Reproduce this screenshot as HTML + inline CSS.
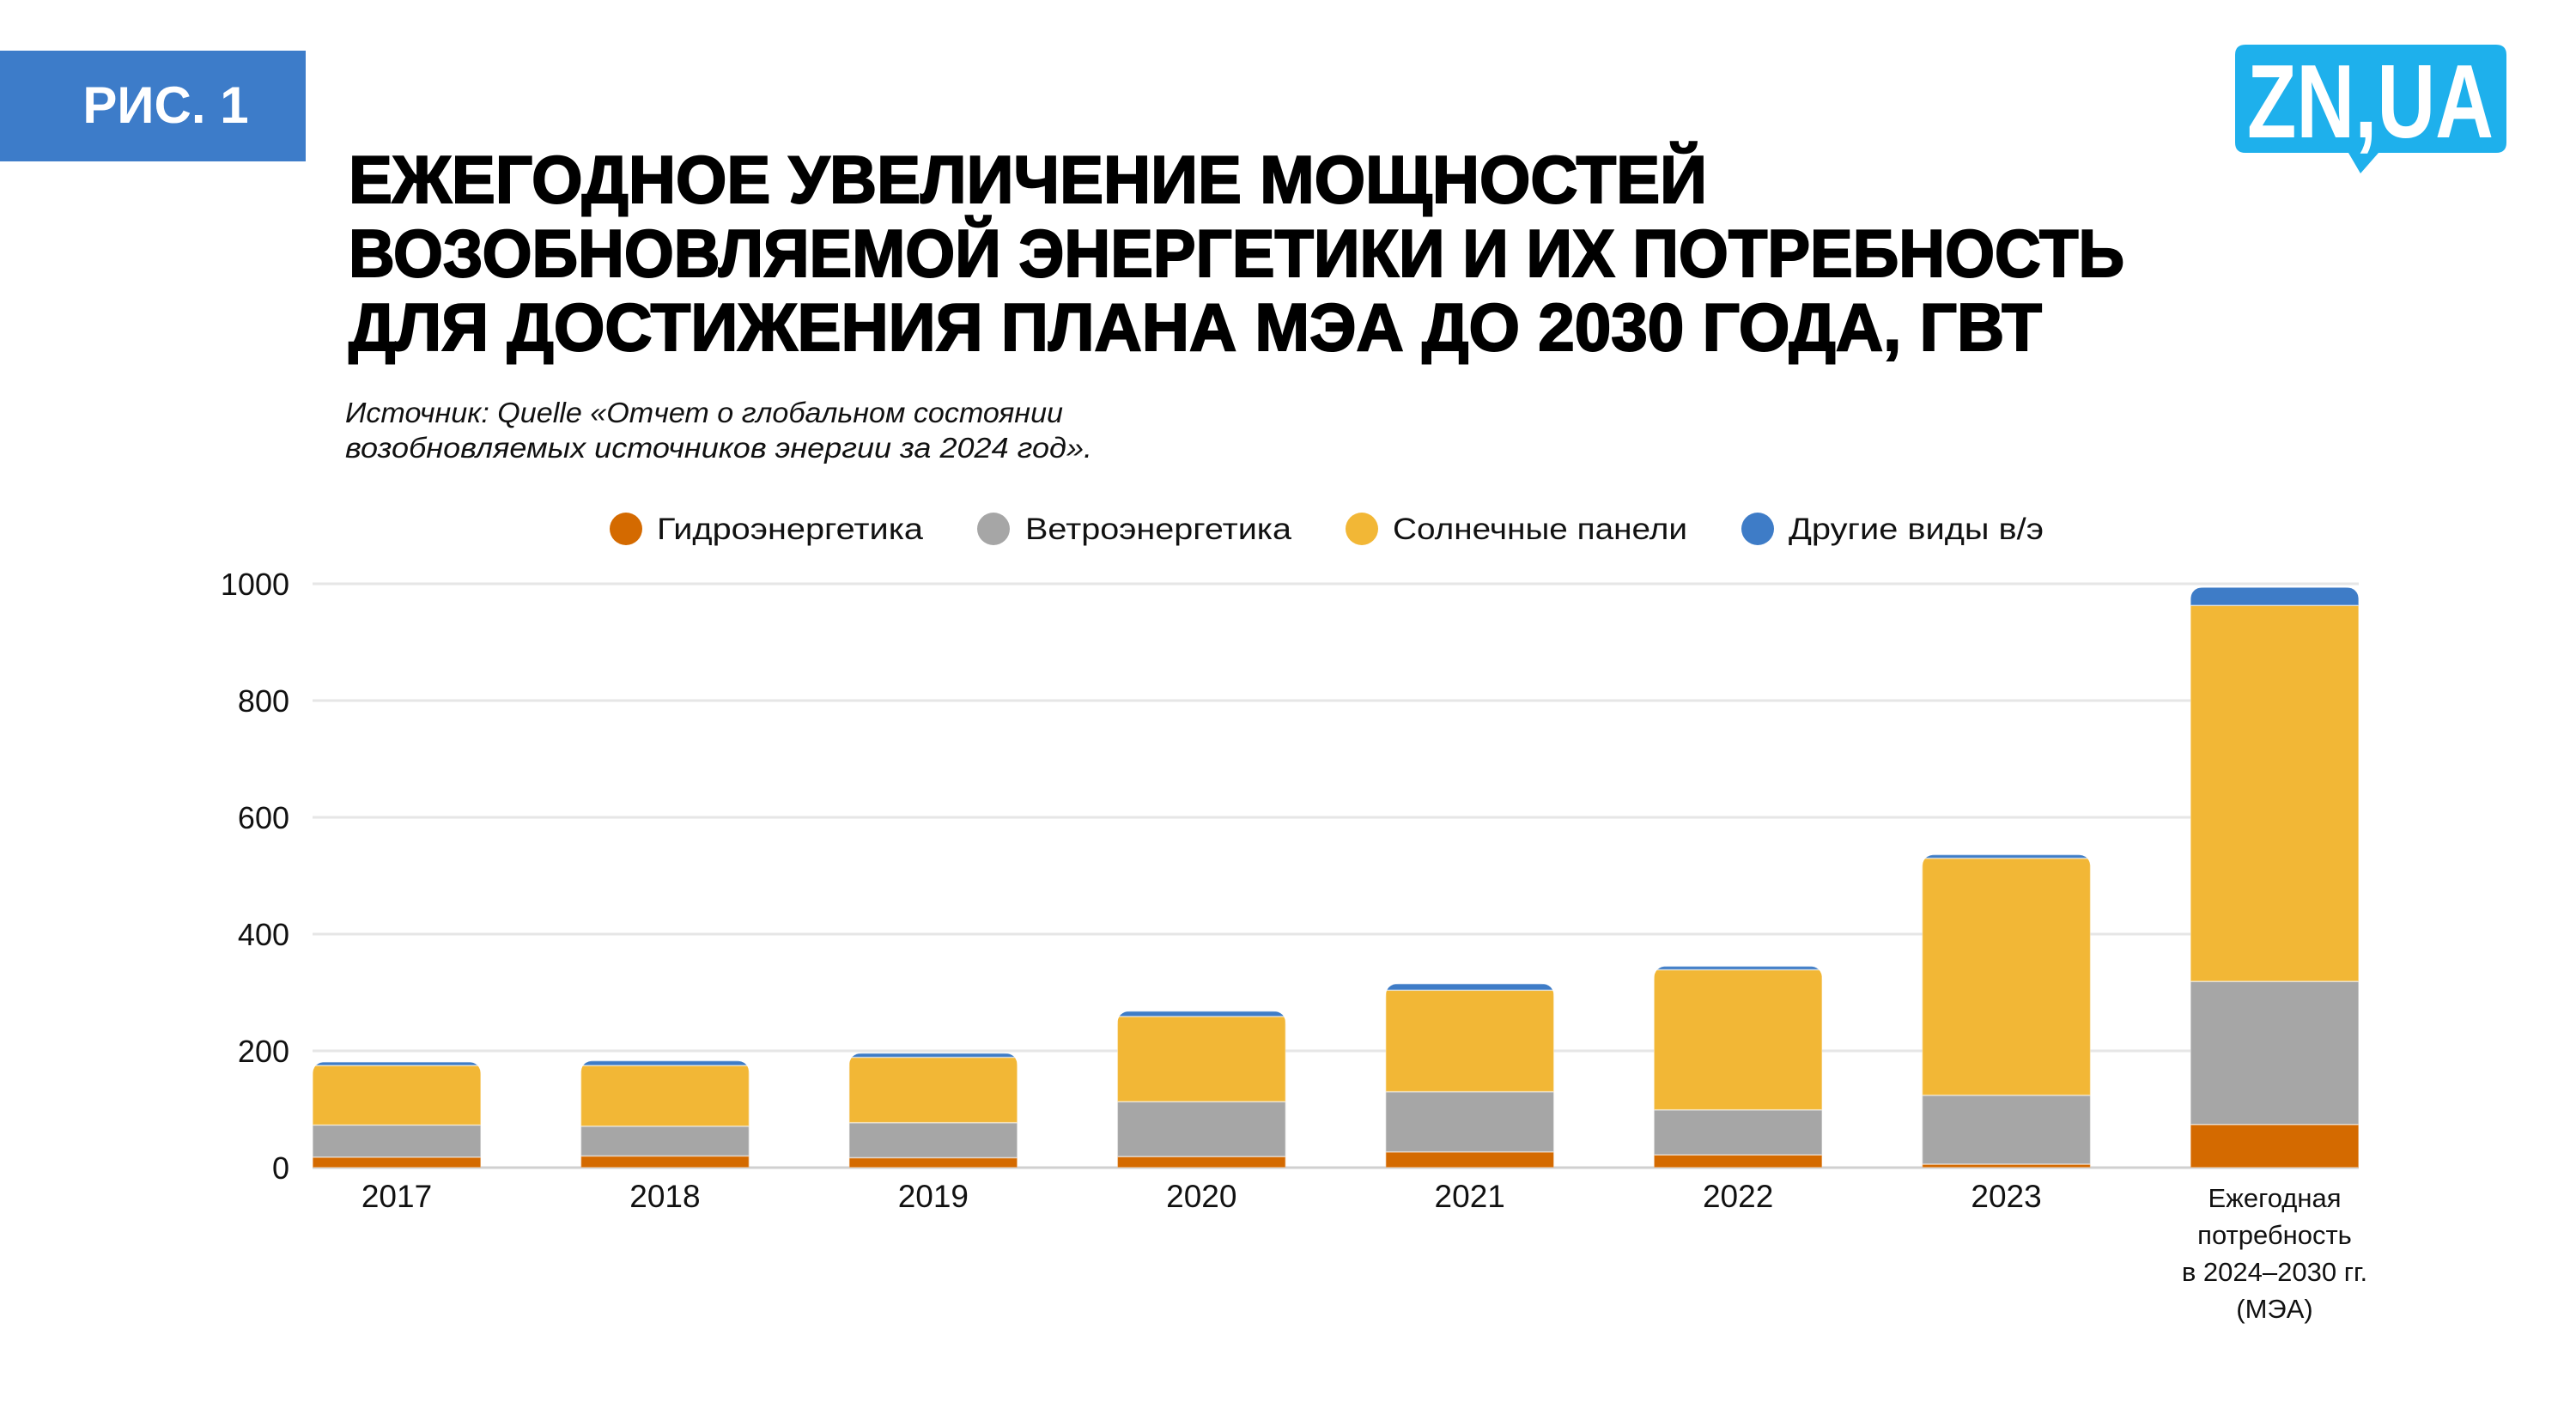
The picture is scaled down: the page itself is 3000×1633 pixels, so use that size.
<!DOCTYPE html>
<html><head><meta charset="utf-8"><style>
html,body{margin:0;padding:0;background:#fff;}
svg{display:block;}
text{font-family:"Liberation Sans","DejaVu Sans",sans-serif;}
</style></head><body>
<svg id="chart" width="3000" height="1633" viewBox="0 0 3000 1633" xmlns="http://www.w3.org/2000/svg">
  <rect x="0" y="0" width="3000" height="1633" fill="#fff"/>
  <g>
    <rect x="0" y="59" width="356" height="129" fill="#3d7cc9"/>
    <text x="193" y="143" fill="#fff" font-size="60" font-weight="700" text-anchor="middle">РИС. 1</text>
  </g>
  <g>
    <path d="M2615 52 H2907 Q2919 52 2919 64 V166 Q2919 178 2907 178 H2770 L2749 202 L2735 178 H2615 Q2603 178 2603 166 V64 Q2603 52 2615 52 Z" fill="#1eb0ec"/>
    <text x="2617" y="160" fill="#fff" font-size="122" font-weight="700" textLength="287" lengthAdjust="spacingAndGlyphs">ZN,UA</text>
  </g>
  <g font-weight="900" font-size="78" fill="#000" stroke="#000" stroke-width="2">
    <text x="406" y="236" textLength="1582" lengthAdjust="spacingAndGlyphs">ЕЖЕГОДНОЕ УВЕЛИЧЕНИЕ МОЩНОСТЕЙ</text>
    <text x="406" y="322" textLength="2068" lengthAdjust="spacingAndGlyphs">ВОЗОБНОВЛЯЕМОЙ ЭНЕРГЕТИКИ И ИХ ПОТРЕБНОСТЬ</text>
    <text x="406" y="408" textLength="1972" lengthAdjust="spacingAndGlyphs">ДЛЯ ДОСТИЖЕНИЯ ПЛАНА МЭА ДО 2030 ГОДА, ГВТ</text>
  </g>
  <g font-style="italic" font-size="33" fill="#111">
    <text x="402" y="492" textLength="836" lengthAdjust="spacingAndGlyphs">Источник: Quelle «Отчет о глобальном состоянии</text>
    <text x="402" y="533" textLength="870" lengthAdjust="spacingAndGlyphs">возобновляемых источников энергии за 2024 год».</text>
  </g>
  <g id="legend"></g>
  <g id="grid"></g>
  <g id="yaxis"></g>
  <g id="bars"></g>
  <g id="xaxis"></g>
</svg>
<script>
const categories = ["2017","2018","2019","2020","2021","2022","2023","Ежегодная|потребность|в 2024–2030 гг.|(МЭА)"];
const hydro = [18, 20, 17, 19, 27, 22, 6, 74];
const wind = [55, 51, 60, 94, 103, 77, 118, 245];
const solar = [102, 104, 112, 146, 174, 240, 406, 644];
const other = [6, 8, 7, 9, 11, 6, 6, 31];
const seriesNames = ["Гидроэнергетика","Ветроэнергетика","Солнечные панели","Другие виды в/э"];
const yTicks = [0, 200, 400, 600, 800, 1000];

const NS = "http://www.w3.org/2000/svg";
const colors = ["#d46a00","#a6a6a6","#f2b736","#3e7cc7"];
const series = [hydro, wind, solar, other];
const plotL = 364, plotR = 2747, y0 = 1360, y1000 = 680;
const barW = 196;
const step = (plotR - plotL - barW) / (categories.length - 1);
function yScale(v){ return y0 - (v/1000)*(y0 - y1000); }
function xCenter(i){ return plotL + barW/2 + step*i; }
function mk(tag, attrs, parent){
  const e = document.createElementNS(NS, tag);
  for (const k in attrs) e.setAttribute(k, attrs[k]);
  parent.appendChild(e); return e;
}
const grid = document.getElementById('grid');
const yaxis = document.getElementById('yaxis');
yTicks.forEach(t => {
  const y = yScale(t);
  const l = mk('line', {x1: plotL, x2: plotR, y1: y, y2: y, stroke: t===0 ? '#d0d0d0' : '#e6e6e6', 'stroke-width': 3}, grid);
  
  
  const tx = mk('text', {x: 337, y: y + 13, 'font-size': 36, 'text-anchor': 'end', fill: '#111'}, yaxis);
  tx.textContent = t;
  
  
});
const bars = document.getElementById('bars');
const defs = mk('defs', {}, bars);
categories.forEach((c, i) => {
  const cx = xCenter(i), x = cx - barW/2;
  let total = 0; series.forEach(s => total += s[i]);
  const topY = yScale(total), r = 16;
  const cp = mk('clipPath', {id: 'clip' + i}, defs);
  mk('path', {d: `M${x} ${y0} V${topY + r} Q${x} ${topY} ${x + r} ${topY} H${x + barW - r} Q${x + barW} ${topY} ${x + barW} ${topY + r} V${y0} Z`}, cp);
  const g = mk('g', {'clip-path': 'url(#clip' + i + ')'}, bars);
  
  
  let acc = 0;
  series.forEach((s, k) => {
    const yb = yScale(acc), yt = yScale(acc + s[i]);
    acc += s[i];
    const rc = mk('rect', {x: x, y: yt, width: barW, height: Math.max(0, yb - yt), fill: colors[k], stroke: '#fff', 'stroke-width': 1.5, 'stroke-opacity': 0.5}, g);
    
    
  });
  const lines = c.split('|');
  lines.forEach((ln, j) => {
    const tx = mk('text', {x: cx, y: 1406 + j*43, 'font-size': lines.length > 1 ? 31 : 37, 'text-anchor': 'middle', fill: '#111'}, document.getElementById('xaxis'));
    tx.textContent = ln;
    
    
  });
});
const legend = document.getElementById('legend');
const legCx = [729, 1157, 1586, 2047];
const legTx = [765, 1194, 1622, 2083];
const legW = [310, 310, 343, 297];
seriesNames.forEach((n, k) => {
  const g = mk('g', {}, legend);
  
  
  const c = mk('circle', {cx: legCx[k], cy: 616, r: 19, fill: colors[k]}, g);
  
  
  const t = mk('text', {x: legTx[k], y: 628, 'font-size': 35, fill: '#111', textLength: legW[k], lengthAdjust: 'spacingAndGlyphs'}, g);
  t.textContent = n;
  
  
});
</script>
</body></html>
